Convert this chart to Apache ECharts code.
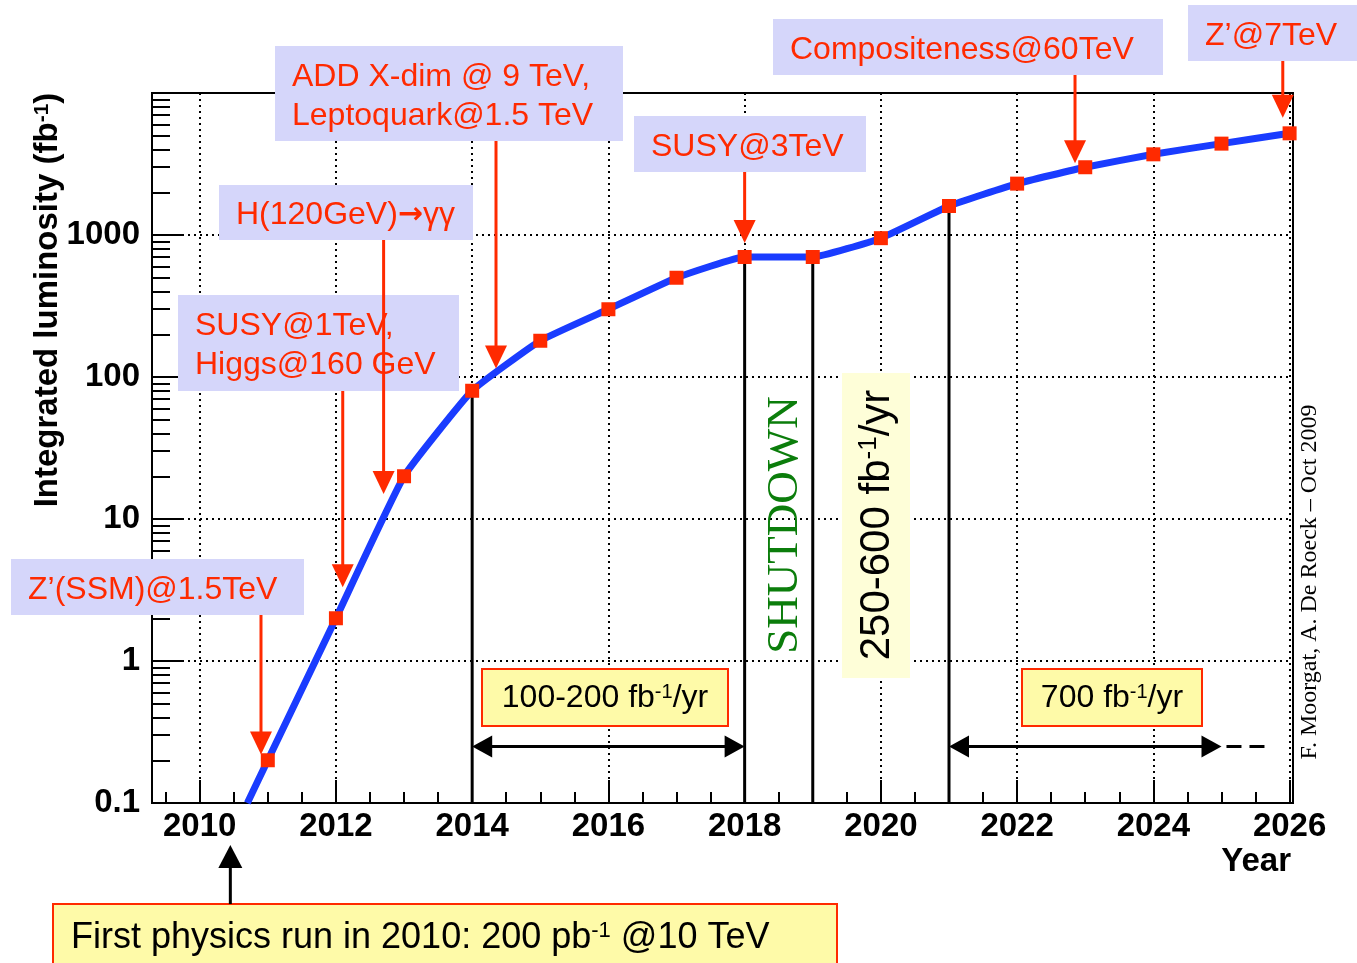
<!DOCTYPE html>
<html>
<head>
<meta charset="utf-8">
<script src="https://cdn.jsdelivr.net/npm/echarts@6/dist/echarts.min.js"></script>
<style>
  html, body { margin: 0; background: #fff; }
  #chart { width: 1357px; height: 963px; }
</style>
</head>
<body>
<div id="chart"></div>
<script>
// integrated luminosity projection (fb^-1) per year
const years = [2011, 2012, 2013, 2014, 2015, 2016, 2017, 2018, 2019, 2020, 2021, 2022, 2023, 2024, 2025, 2026]
const lumi = [0.2, 2, 20, 80, 180, 300, 500, 700, 700, 950, 1600, 2300, 3000, 3700, 4400, 5200]
const curveStart = [2010.7, 0.1]
const yTickLabels = ['0.1', '1', '10', '100', '1000']

// physics reach annotations: label, year and luminosity the arrow points at
const reachLabels = ['Z’(SSM)@1.5TeV', 'SUSY@1TeV,\nHiggs@160 GeV', 'H(120GeV){a|→}γγ', 'ADD X-dim @ 9 TeV,\nLeptoquark@1.5 TeV', 'SUSY@3TeV', 'Compositeness@60TeV', 'Z’@7TeV']
const reachYears = [2010.9, 2012.1, 2012.7, 2014.35, 2018, 2022.85, 2025.9]
const reachLumi = [0.22, 3.3, 15, 115, 880, 3200, 6700]

// running periods
const periodEdges = [2014, 2018, 2019, 2021]
const rateSpans = [[2014, 2018], [2021, 2025]]
const rateExtension = [2025, 2025.7]
const rateArrowLumi = 0.25
const rateLabels = ['100-200 fb{s|-1}/yr', '700 fb{s|-1}/yr']
const firstRunYear = 2010.45

const RED = '#ff2a00'
const SANS = "'Liberation Sans', Arial, sans-serif"
const SERIF = "'Liberation Serif', 'Times New Roman', serif"

// minor log ticks, drawn on a helper axis in log10 units
const minorLog = []
for (let n = -1; n < 4; n++) {
  for (let k = 2; k < 10; k++) minorLog.push(Math.log10(k) + n)
}

const chart = echarts.init(document.getElementById('chart'))
const option = {
  backgroundColor: '#fff',
  animation: false,
  grid: {
    left: 152, top: 93, right: 64, bottom: 160,
    show: true, borderColor: '#000', borderWidth: 2,
  },
  xAxis: {
    type: 'value',
    min: 2009.3,
    max: 2026.05,
    splitNumber: 8,
    axisLine: { onZero: false, lineStyle: { color: '#000', width: 2 } },
    axisTick: { inside: true, length: 23, lineStyle: { color: '#000', width: 2 } },
    minorTick: { show: true, splitNumber: 4, length: 11, lineStyle: { color: '#000', width: 2 } },
    axisLabel: {
      showMinLabel: false, showMaxLabel: false, margin: 7,
      color: '#000', fontFamily: SANS, fontWeight: 'bold', fontSize: 33,
      formatter: (v) => String(v),
    },
    splitLine: { show: true, lineStyle: { color: '#000', width: 2, type: [2, 4] } },
  },
  yAxis: [
    {
      type: 'log',
      logBase: 10,
      min: 0.1,
      max: 10000,
      axisLine: { onZero: false, lineStyle: { color: '#000', width: 2 } },
      axisTick: { inside: true, length: 32, lineStyle: { color: '#000', width: 2 } },
      axisLabel: {
        margin: 12, padding: [8, 0, 0, 0], color: '#000', fontFamily: SANS, fontWeight: 'bold', fontSize: 33,
        formatter: (v) => yTickLabels[Math.round(Math.log10(v)) + 1] || '',
      },
      splitLine: { show: true, lineStyle: { color: '#000', width: 2, type: [2, 4] } },
    },
    {
      type: 'value',
      position: 'left',
      min: -1,
      max: 4,
      axisLine: { show: false, onZero: false },
      axisLabel: { show: false },
      splitLine: { show: false },
      axisTick: { show: true, inside: true, length: 18, customValues: minorLog, lineStyle: { color: '#000', width: 2 } },
    },
  ],
  series: [
    {
      type: 'line',
      data: [curveStart, ...years.map((y, i) => [y, lumi[i]])],
      showSymbol: false,
      smooth: 0.12,
      lineStyle: { color: '#1a3cff', width: 7 },
      z: 3,
    },
    {
      type: 'scatter',
      data: years.map((y, i) => [y, lumi[i]]),
      symbol: 'rect',
      symbolSize: 14,
      itemStyle: { color: RED, opacity: 1 },
      z: 4,
    },
  ],
}
chart.setOption(option)

const px = (x, y) => chart.convertToPixel({ seriesIndex: 0 }, [x, y])
const sup = (size, color, weight) => ({ s: { fontSize: size, fontFamily: SANS, fontWeight: weight || 'normal', fill: color, verticalAlign: 'top' } })

const redArrow = (x, y0, y1) => [
  { type: 'line', z: 100, shape: { x1: x, y1: y0, x2: x, y2: y1 - 18 }, style: { stroke: RED, lineWidth: 3 } },
  { type: 'polygon', z: 100, shape: { points: [[x - 11, y1 - 23], [x + 11, y1 - 23], [x, y1]] }, style: { fill: RED } },
]
const doubleArrow = (x0, x1, y) => [
  { type: 'line', z: 100, shape: { x1: x0 + 15, y1: y, x2: x1 - 15, y2: y }, style: { stroke: '#000', lineWidth: 3 } },
  { type: 'polygon', z: 100, shape: { points: [[x0, y], [x0 + 20, y - 11], [x0 + 20, y + 11]] }, style: { fill: '#000' } },
  { type: 'polygon', z: 100, shape: { points: [[x1, y], [x1 - 20, y - 11], [x1 - 20, y + 11]] }, style: { fill: '#000' } },
]

// lavender label boxes [x, y, w, h]
const reachBoxes = [[11, 559, 293, 56], [178, 295, 281, 96], [219, 185, 254, 55], [275, 46, 348, 95], [634, 116, 232, 56], [773, 19, 390, 56], [1188, 5, 169, 56]]
const rateBoxes = [[482, 669, 246, 57], [1022, 669, 180, 57]]

const g = []
reachLabels.forEach((label, i) => {
  const [bx, by, bw, bh] = reachBoxes[i]
  const [ax, ay] = px(reachYears[i], reachLumi[i])
  g.push({ type: 'rect', z: 99, shape: { x: bx, y: by, width: bw, height: bh }, style: { fill: '#d5d6fa' } })
  g.push({
    type: 'text', z: 100,
    style: {
      x: bx + 17, y: by + bh / 2 + 3, text: label, fill: RED, fontFamily: SANS, fontSize: 32, lineHeight: 39, align: 'left', verticalAlign: 'middle',
      rich: { a: { fontFamily: "'DejaVu Sans', sans-serif", fontWeight: 'bold', fontSize: 30, fill: RED } },
    },
  })
  g.push(...redArrow(ax, by + bh, ay))
})

// vertical period boundaries from the curve down to the axis
periodEdges.forEach((yr) => {
  const [x, top] = px(yr, lumi[years.indexOf(yr)])
  const [, bottom] = px(yr, 0.1)
  g.push({ type: 'line', z: 1, shape: { x1: x, y1: top, x2: x, y2: bottom }, style: { stroke: '#000', lineWidth: 3 } })
})

rateSpans.forEach(([a, b], i) => {
  const [x0, y] = px(a, rateArrowLumi)
  const [x1] = px(b, rateArrowLumi)
  g.push(...doubleArrow(x0, x1, y))
  const [bx, by, bw, bh] = rateBoxes[i]
  g.push({ type: 'rect', z: 99, shape: { x: bx, y: by, width: bw, height: bh }, style: { fill: '#fefaa8', stroke: RED, lineWidth: 2 } })
  g.push({
    type: 'text', z: 100,
    style: { x: bx + bw / 2, y: by + bh / 2 + 1, text: rateLabels[i], fill: '#000', fontFamily: SANS, fontSize: 32, lineHeight: 32, align: 'center', verticalAlign: 'middle', rich: sup(20, '#000') },
  })
})
{
  const [x0, y] = px(rateExtension[0], rateArrowLumi)
  const [x1] = px(rateExtension[1], rateArrowLumi)
  g.push({ type: 'line', z: 100, shape: { x1: x0 + 5, y1: y, x2: x1, y2: y }, style: { stroke: '#000', lineWidth: 3, lineDash: [15, 8] } })
}

// shutdown and second phase labels
g.push({
  type: 'text', z: 100, x: 785, y: 525, rotation: Math.PI / 2,
  style: { x: 0, y: 0, text: 'SHUTDOWN', fill: '#0b7d0b', fontFamily: SERIF, fontSize: 45, align: 'center', verticalAlign: 'middle' },
})
g.push({ type: 'rect', z: 99, shape: { x: 842, y: 373, width: 68, height: 305 }, style: { fill: '#fefed8' } })
g.push({
  type: 'text', z: 100, x: 877, y: 525, rotation: Math.PI / 2,
  style: { x: 0, y: 0, text: '250-600 fb{s|-1}/yr', fill: '#000', fontFamily: SANS, fontSize: 42, lineHeight: 42, align: 'center', verticalAlign: 'middle', rich: sup(26, '#000') },
})

// first physics run
{
  const [x] = px(firstRunYear, 0.1)
  g.push({ type: 'line', z: 100, shape: { x1: x, y1: 904, x2: x, y2: 866 }, style: { stroke: '#000', lineWidth: 3 } })
  g.push({ type: 'polygon', z: 100, shape: { points: [[x - 12, 868], [x + 12, 868], [x, 845]] }, style: { fill: '#000' } })
  g.push({ type: 'rect', z: 99, shape: { x: 53, y: 904, width: 784, height: 70 }, style: { fill: '#fefaa8', stroke: RED, lineWidth: 2 } })
  g.push({
    type: 'text', z: 100,
    style: { x: 71, y: 938, text: 'First physics run in 2010: 200 pb{s|-1} @10 TeV', fill: '#000', fontFamily: SANS, fontSize: 36, lineHeight: 36, align: 'left', verticalAlign: 'middle', rich: sup(22, '#000') },
  })
}

// axis titles and credit
g.push({
  type: 'text', z: 100, x: 48, y: 300, rotation: Math.PI / 2,
  style: { x: 0, y: 0, text: 'Integrated luminosity (fb{s|-1})', fill: '#000', fontFamily: SANS, fontWeight: 'bold', fontSize: 33, lineHeight: 33, align: 'center', verticalAlign: 'middle', rich: sup(21, '#000', 'bold') },
})
g.push({
  type: 'text', z: 100,
  style: { x: 1291, y: 862, text: 'Year', fill: '#000', fontFamily: SANS, fontWeight: 'bold', fontSize: 33, align: 'right', verticalAlign: 'middle' },
})
g.push({
  type: 'text', z: 100, x: 1310, y: 582, rotation: Math.PI / 2,
  style: { x: 0, y: 0, text: 'F. Moorgat, A. De Roeck – Oct 2009', fill: '#000', fontFamily: SERIF, fontSize: 24, align: 'center', verticalAlign: 'middle' },
})

chart.setOption({ graphic: { elements: g } })
</script>
</body>
</html>
